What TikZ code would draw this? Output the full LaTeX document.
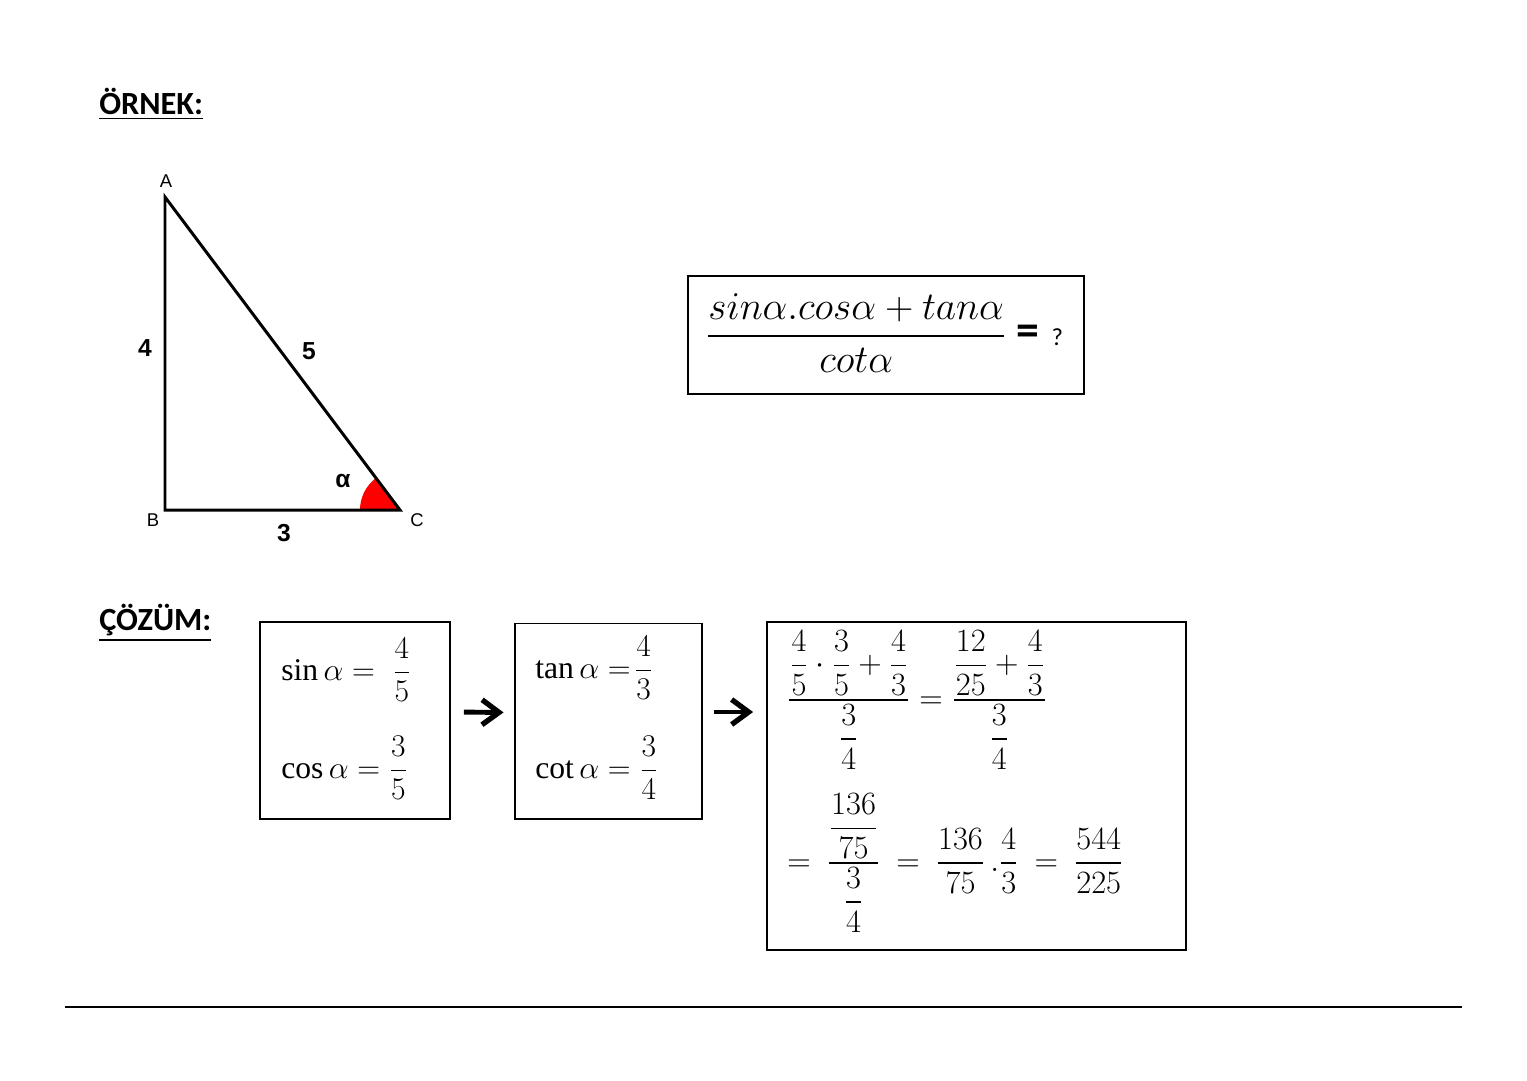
\documentclass[tikz,border=0pt]{standalone}
\usepackage{fix-cm}
\usepackage{amsmath}
\usepackage{fontspec}
\setmainfont{Carlito}
\setmathrm{Liberation Serif}
\newfontfamily\arialfont{Liberation Sans}
\usetikzlibrary{positioning,arrows.meta}

\begin{document}
\begin{tikzpicture}[x=0.02cm, y=-0.02cm]
  % Define block styles
  \tikzstyle{heading} = [font=\fontsize{18.4}{22}\selectfont\bfseries, anchor=west, inner sep=0pt]
  \tikzstyle{vertex} = [font=\arialfont\fontsize{10.5}{12}\selectfont, inner sep=0pt]
  \tikzstyle{side} = [font=\arialfont\bfseries\fontsize{14}{16}\selectfont, inner sep=0pt]
  \tikzstyle{block} = [rectangle, draw, line width=1.1pt, inner sep=0pt]
  \tikzstyle{formula} = [font=\fontsize{18}{22}\selectfont, anchor=west, inner sep=0pt]
  \tikzstyle{line} = [draw, line width=2.8pt, -{Straight Barb[length=0.34cm,width=0.5cm,line width=3pt]}]

  \useasboundingbox (0,0) rectangle (1527,1080);

  % Place headings
  \node [heading] (ornek) at (99,104) {\underline{ÖRNEK:}};
  \node [heading] (cozum) at (99,623) {\underline{ÇÖZÜM:}};

  % Triangle
  \coordinate (A) at (165,197);
  \coordinate (B) at (165,510);
  \coordinate (C) at (400,510);
  \begin{scope}
    \clip (A) -- (B) -- (C) -- cycle;
    \fill [red] (C) circle [radius=0.8cm];
  \end{scope}
  \draw [line width=1.7pt] (A) -- (B) -- (C) -- cycle;
  \node [vertex] (lblA) at (166,181) {A};
  \node [vertex] (lblB) at (153,520) {B};
  \node [vertex] (lblC) at (417,520) {C};
  \node [side] (ab) at (145,348) {4};
  \node [side] (ac) at (309,351) {5};
  \node [side] (bc) at (284,533) {3};
  \node [side] (alpha) at (343,481) {α};

  % Question
  \node [block, minimum width=7.92cm, minimum height=2.36cm] (quest) at (886,335) {};
  \node [anchor=west, inner sep=0pt, font=\fontsize{22.4}{26}\selectfont] (questtext) at (706,333)
    {$\dfrac{sin\alpha.cos\alpha+tan\alpha}{cot\alpha}$\hspace{6pt}{\fontsize{26}{30}\selectfont\bfseries =}\hspace{7pt}{\fontsize{14}{16}\selectfont ?}};

  % Place blocks
  \node [block, minimum width=3.8cm, minimum height=3.94cm] (sincos) at (355,720.5) {};
  \node [formula] (sin) at (281,670) {$\sin\alpha = \;\dfrac{4}{5}$};
  \node [formula] (cos) at (281,768) {$\cos\alpha = \dfrac{3}{5}$};

  \node [block, line width=0.6pt, minimum width=3.74cm, minimum height=3.92cm] (tancot) at (608.5,721) {};
  \node [formula] (tan) at (535,668) {$\tan\alpha =\!\dfrac{4}{3}$};
  \node [formula] (cot) at (535,768) {$\cot\alpha = \dfrac{3}{4}$};

  \node [block, minimum width=8.38cm, minimum height=6.56cm] (result) at (976.5,786) {};
  \node [formula, font=\fontsize{18.5}{22}\selectfont] (step1) at (787,700)
    {$\dfrac{\dfrac45\cdot\dfrac35+\dfrac43}{\dfrac34}=\dfrac{\dfrac{12}{25}+\dfrac43}{\dfrac34}$};
  \node [formula, font=\fontsize{18.5}{22}\selectfont] (step2) at (787,863)
    {$=\:\dfrac{\dfrac{136}{75}}{\dfrac34}\:=\:\dfrac{136}{75}\,.\dfrac43\:=\:\dfrac{544}{225}$};

  % Draw lines
  \path [line, shorten <=0.26cm, shorten >=0.22cm] ([yshift=0.17cm]sincos.east) -- ([yshift=0.17cm]tancot.west);
  \path [line, shorten <=0.22cm, shorten >=0.26cm] ([yshift=0.18cm]tancot.east) -- ([yshift=0.18cm]tancot.east -| result.west);
  \coordinate (ruleL) at (65,1007);
  \coordinate (ruleR) at (1462,1007);
  \draw [line width=0.6pt] (ruleL) -- (ruleR);
\end{tikzpicture}
\end{document}
